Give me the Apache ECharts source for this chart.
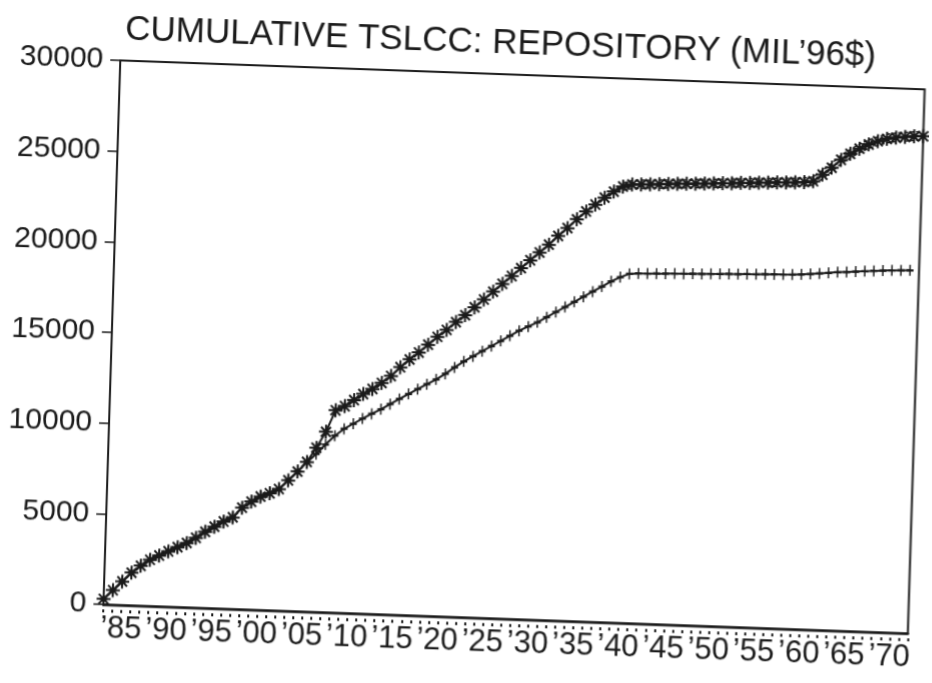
<!DOCTYPE html>
<html>
<head>
<meta charset="utf-8">
<script src="https://cdn.jsdelivr.net/npm/echarts@6/dist/echarts.min.js"></script>
<style>
html,body{margin:0;padding:0;background:#fff;overflow:hidden;}
#wrap{width:932px;height:683px;transform-origin:0 0;transform:matrix(1,0.036,-0.031,1,0,0);}
#chart{width:932px;height:683px;}
</style>
</head>
<body>
<div id="wrap"><div id="chart"></div></div>
<script>
const titleText = 'CUMULATIVE TSLCC: REPOSITORY (MIL’96$)';

const years = [1983,1984,1985,1986,1987,1988,1989,1990,1991,1992,1993,1994,1995,1996,1997,1998,1999,
  2000,2001,2002,2003,2004,2005,2006,2007,2008,2009,2010,2011,2012,2013,2014,2015,2016,2017,2018,2019,
  2020,2021,2022,2023,2024,2025,2026,2027,2028,2029,2030,2031,2032,2033,2034,2035,2036,2037,2038,2039,
  2040,2041,2042,2043,2044,2045,2046,2047,2048,2049,2050,2051,2052,2053,2054,2055,2056,2057,2058,2059,
  2060,2061,2062,2063,2064,2065,2066,2067,2068,2069,2070,2071,2072];

const xLabelYears = [1985,1990,1995,2000,2005,2010,2015,2020,2025,2030,2035,2040,2045,2050,2055,2060,2065,2070];
const yTicks = [0,5000,10000,15000,20000,25000,30000];

// upper series (asterisk markers)
const upperMid = [300,800,1300,1800,2200,2550,2800,3050,3300,3550,3850,4200,4500,4800,5050,5600,5950,
  6250,6450,6700,7200,7700,8250,9050,9950,11150,11400,11750,12100,12400,12750,13150,13650,14100,14500,14950,15400,
  15800,16250,16650,17100,17550,18000,18450,18900,19350,19800,20250,20700,21200,21650,22150,22600,23000,23400,23750,24050,
  24180,24200,24230,24250,24280,24300,24330,24350,24380,24400,24430,24450,24480,24500,24530,24550,24580,24600,24630,24650,
  24720,25100,25500,25950,26300,26600,26850,27050,27200,27280,27340,27390,27420];

// thin band lines around the upper series (2039 onward)
const upperHigh = [null,null,null,null,null,null,null,null,null,null,null,null,null,null,null,null,null,
  null,null,null,null,null,null,null,null,null,null,null,null,null,null,null,null,null,null,null,null,
  null,null,null,null,null,null,null,null,null,null,null,null,null,null,null,null,null,null,null,24250,
  24400,24430,24450,24480,24500,24530,24550,24580,24600,24630,24650,24680,24700,24730,24750,24780,24800,24830,24850,24880,
  24950,25350,25750,26200,26550,26850,27100,27300,27450,27530,27590,27640,27670];
const upperLow = [null,null,null,null,null,null,null,null,null,null,null,null,null,null,null,null,null,
  null,null,null,null,null,null,null,null,null,null,null,null,null,null,null,null,null,null,null,null,
  null,null,null,null,null,null,null,null,null,null,null,null,null,null,null,null,null,null,null,23830,
  23960,23980,24010,24030,24060,24080,24110,24130,24160,24180,24210,24230,24260,24280,24310,24330,24360,24380,24410,24430,
  24500,24880,25280,25730,26080,26380,26630,26830,26980,27060,27120,27170,27200];

// lower series (plus markers)
const lower = [300,800,1300,1800,2200,2550,2800,3050,3300,3550,3850,4200,4500,4800,5050,5600,5950,
  6250,6450,6700,7200,7700,8250,8700,9250,9750,10150,10450,10750,11030,11300,11600,11900,12200,12480,12770,13050,
  13380,13750,14100,14400,14700,15000,15300,15600,15900,16150,16400,16700,17000,17300,17600,17900,18200,18500,18800,19050,
  19250,19290,19300,19320,19330,19350,19360,19380,19390,19410,19420,19440,19450,19470,19480,19500,19510,19520,19530,19560,
  19600,19650,19700,19750,19780,19820,19860,19900,19930,19960,19980,20000,null];

const INK = '#1a1a1a';
const FONT = '"Liberation Sans", Arial, Helvetica, sans-serif';
const ASTER = 'path://M0,-6L0,6M-6,0L6,0M-4.2,-4.2L4.2,4.2M-4.2,4.2L4.2,-4.2';
const PLUS = 'path://M0,-5L0,5M-3,0L3,0';

const chart = echarts.init(document.getElementById('chart'), null, {renderer: 'canvas'});
chart.setOption({
  animation: false,
  backgroundColor: '#fff',
  title: {
    text: titleText,
    left: 121, top: 3,
    textStyle: {fontSize: 35, fontWeight: 'normal', color: INK, fontFamily: FONT}
  },
  grid: {left: 122, top: 56, width: 808, height: 544, show: true, borderColor: INK, borderWidth: 2, backgroundColor: 'transparent'},
  xAxis: {
    type: 'category',
    data: years,
    boundaryGap: false,
    axisLine: {lineStyle: {color: INK, width: 2.5}},
    axisTick: {show: true, interval: 0, length: 10, lineStyle: {color: INK, width: 2, type: [0, 5, 3, 30]}},
    axisLabel: {
      interval: function (i, v) { return xLabelYears.indexOf(+v) >= 0; },
      formatter: function (v) { return '’' + String(v).slice(2); },
      fontSize: 31, color: INK, fontFamily: FONT, margin: 9
    },
    splitLine: {show: false}
  },
  yAxis: {
    type: 'value',
    min: yTicks[0], max: yTicks[yTicks.length - 1], interval: yTicks[1] - yTicks[0],
    axisLine: {show: true, lineStyle: {color: INK, width: 2}},
    axisTick: {show: true, length: 10, lineStyle: {color: INK, width: 1.5}},
    axisLabel: {
      formatter: function (v) { return String(v); },
      fontSize: 30, color: INK, fontFamily: FONT, margin: 17
    },
    splitLine: {show: false}
  },
  series: [
    {
      name: 'upper high', type: 'line', data: upperHigh, symbol: 'none', connectNulls: false,
      lineStyle: {color: INK, width: 1.5, type: [4, 2]}, z: 2
    },
    {
      name: 'upper low', type: 'line', data: upperLow, symbol: 'none', connectNulls: false,
      lineStyle: {color: INK, width: 1.5, type: [4, 2]}, z: 2
    },
    {
      name: 'lower', type: 'line', data: lower, symbol: PLUS, symbolSize: [7, 11], showAllSymbol: true,
      lineStyle: {color: INK, width: 2},
      itemStyle: {color: INK, borderColor: INK, borderWidth: 1.8}, z: 3
    },
    {
      name: 'upper', type: 'line', data: upperMid, symbol: ASTER, symbolSize: 14, showAllSymbol: true,
      lineStyle: {color: INK, width: 2},
      itemStyle: {color: INK, borderColor: INK, borderWidth: 2}, z: 4
    }
  ]
});
</script>
</body>
</html>
